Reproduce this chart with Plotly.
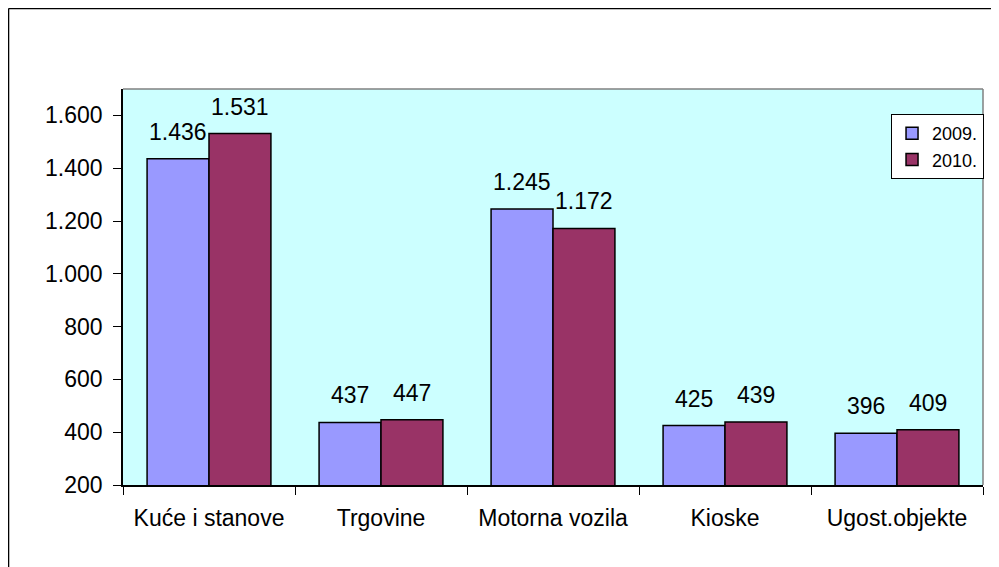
import plotly.graph_objects as go

categories = ["Kuće i stanove", "Trgovine", "Motorna vozila", "Kioske", "Ugost.objekte"]
series_names = ["2009.", "2010."]
values_2009 = [1436, 437, 1245, 425, 396]
values_2010 = [1531, 447, 1172, 439, 409]
y_ticks = [200, 400, 600, 800, 1000, 1200, 1400, 1600]

colors = ["#9999FF", "#993366"]
FONT = "Liberation Sans, Arial, sans-serif"

fig = go.Figure()
for name, vals, col in zip(series_names, [values_2009, values_2010], colors):
    fig.add_trace(go.Bar(
        x=categories, y=vals, name=name,
        marker=dict(color=col, line=dict(color="black", width=1.5)),
    ))

annotations = []
for vals, shift in zip([values_2009, values_2010], [-31, 31]):
    for c, v in zip(categories, vals):
        annotations.append(dict(
            x=c, y=v, xref="x", yref="y", text=f"{v:,}".replace(",", "."),
            showarrow=False, xshift=shift, yshift=12, yanchor="bottom",
            font=dict(family=FONT, size=23, color="black"),
        ))

fig.update_layout(
    width=999, height=567,
    margin=dict(l=115, r=24, t=81, b=90),
    paper_bgcolor="white", plot_bgcolor="#CCFFFF",
    barmode="group", bargap=0.28, bargroupgap=0,
    separators=",.",
    font=dict(family=FONT, size=23, color="black"),
    showlegend=True,
    legend=dict(
        x=1.0012, xanchor="right", y=0.937, yanchor="top",
        bgcolor="white", bordercolor="black", borderwidth=1,
        font=dict(family=FONT, size=18, color="black"),
        tracegroupgap=0,
    ),
    annotations=annotations,
    shapes=[
        dict(type="line", xref="paper", yref="paper", x0=0, x1=1, y0=1, y1=1,
             line=dict(color="#808080", width=1.5), layer="below"),
        dict(type="line", xref="paper", yref="paper", x0=1, x1=1, y0=0, y1=1,
             line=dict(color="#808080", width=1.5), layer="below"),
        dict(type="line", xref="paper", yref="paper", x0=-0.1331, x1=1.2, y0=1.2033, y1=1.2033,
             line=dict(color="black", width=1.5)),
        dict(type="line", xref="paper", yref="paper", x0=-0.1331, x1=-0.1331, y0=-0.4, y1=1.2033,
             line=dict(color="black", width=1.5)),
    ],
)
fig.update_xaxes(
    showline=True, linecolor="black", linewidth=1.5,
    ticks="outside", tickson="boundaries", ticklen=8, tickcolor="black", tickwidth=1,
    showgrid=False, tickfont=dict(family=FONT, size=23), ticklabelstandoff=12,
)
fig.update_yaxes(
    range=[200, 1700], tickvals=y_ticks, tickformat=",",
    showline=True, linecolor="black", linewidth=1.5,
    ticks="outside", ticklen=8, tickcolor="black", tickwidth=1,
    showgrid=False, zeroline=False, tickfont=dict(family=FONT, size=23), ticklabelstandoff=6,
)

fig.write_html("out.html")
